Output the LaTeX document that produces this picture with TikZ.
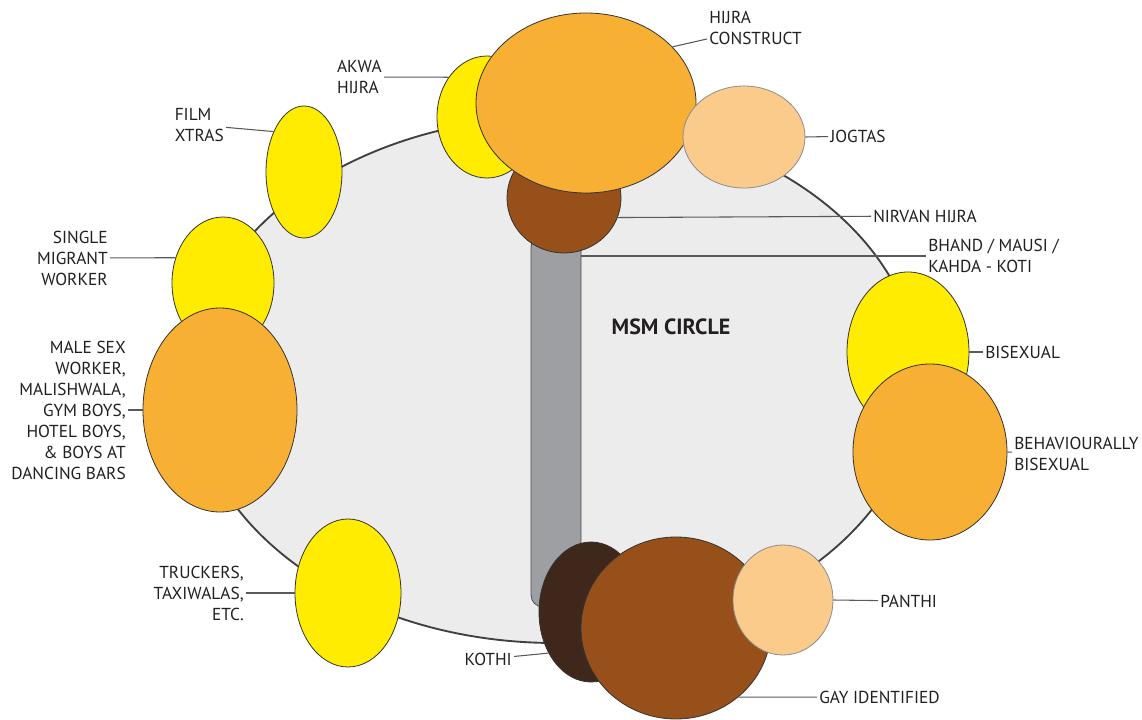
\documentclass[tikz,border=0pt]{standalone}
\usepackage{fontspec}
\setmainfont{PT Sans}
\usepackage{tikz}
\usetikzlibrary{shapes.geometric}
\definecolor{cYel}{HTML}{FFEC00}
\definecolor{cOrg}{HTML}{F7B033}
\definecolor{cPch}{HTML}{FBCB8C}
\definecolor{cBrn}{HTML}{97501A}
\definecolor{cDbr}{HTML}{40271B}
\definecolor{cBg}{HTML}{ECECEC}
\definecolor{cBar}{HTML}{9D9FA2}
\definecolor{cTxt}{HTML}{231F20}
\tikzset{l/.style={font=\fontsize{13}{15.75}\selectfont, text=cTxt, inner sep=1.5pt}}
\tikzset{blob/.style 2 args={ellipse, draw=black!80, line width=.6pt, inner sep=0pt,
  minimum width=#1*1.5pt, minimum height=#2*1.5pt}}
\tikzset{pale/.style={draw=black!45}}
\tikzset{lead/.style={draw=black!65, line width=.8pt}}

\begin{document}
\begin{tikzpicture}[x=.75pt, y=-.75pt]
    \useasboundingbox (0,0) rectangle (1142,720);
    % the big circle and the bar
    \node (msm) [blob={364}{263}, fill=cBg, draw=black!75, line width=1.4pt] at (555,380) {};
    \node (bar) [draw=black!70, line width=.6pt, fill=cBar, rounded corners=9pt,
      minimum width=37.5pt, minimum height=279pt, inner sep=0pt] at (556,421) {};
    \node (msmtxt) [l, font=\fontsize{16.5}{18}\selectfont\bfseries] at (671,327) {MSM CIRCLE};
    \node (bhandtxt) [l, anchor=west, align=left] at (926,256) {BHAND / MAUSI /\\KAHDA - KOTI};
    \draw [lead] (bhandtxt.west) -- (bhandtxt.west -| bar.east);
    % top group
    \node (akwa) [blob={50}{61}, fill=cYel] at (487,117) {};
    \node (akwatxt) [l, anchor=east, align=left] at (384,77) {AKWA\\HIJRA}
      edge [lead] (akwa.134);
    \node (nirvan) [blob={57}{55}, fill=cBrn] at (564,198) {};
    \node (nirvantxt) [l, anchor=west] at (871,216) {NIRVAN HIJRA}
      edge [lead] (nirvan.-20);
    \node (hijra) [blob={110}{90}, fill=cOrg] at (586,103) {};
    \node (hijratxt) [l, anchor=west, align=left] at (707,28) {HIJRA\\CONSTRUCT}
      edge [lead] (hijra.33);
    \node (jog) [blob={61}{51}, fill=cPch, pale] at (744,137) {};
    \node (jogtxt) [l, anchor=west] at (828,136) {JOGTAS}
      edge [lead] (jog.0);
    % left side
    \node (film) [blob={38}{66}, fill=cYel] at (304,172) {};
    \node (filmtxt) [l, anchor=east, align=left] at (226,125) {FILM\\XTRAS}
      edge [lead] (film.127);
    \node (sing) [blob={51}{66}, fill=cYel] at (223,283) {};
    \node (singtxt) [l, anchor=east, align=right] at (110,258) {SINGLE\\MIGRANT\\WORKER}
      edge [lead] (sing.152);
    \node (male) [blob={77}{102}, fill=cOrg] at (220,410) {};
    \node (maletxt) [l, anchor=east, align=right] at (128,410)
      {MALE SEX\\WORKER,\\MALISHWALA,\\GYM BOYS,\\HOTEL BOYS,\\\& BOYS AT\\DANCING BARS}
      edge [lead] (male.180);
    \node (truck) [blob={53}{74}, fill=cYel] at (348,593) {};
    \node (trucktxt) [l, anchor=east, align=right] at (246,593) {TRUCKERS,\\TAXIWALAS,\\ETC.}
      edge [lead] (truck.180);
    % right side
    \node (bi) [blob={61}{80}, fill=cYel] at (908,352) {};
    \node (bitxt) [l, anchor=west] at (983,352) {BISEXUAL}
      edge [lead] (bi.0);
    \node (beh) [blob={77}{88}, fill=cOrg] at (930,452) {};
    \node (behtxt) [l, anchor=west, align=left] at (1012,454) {BEHAVIOURALLY\\BISEXUAL}
      edge [lead] (beh.0);
    % bottom group
    \node (kothi) [blob={52}{70}, fill=cDbr] at (591,612) {};
    \node (kothitxt) [l, anchor=east] at (514,659) {KOTHI}
      edge [lead] (kothi.224);
    \node (gay) [blob={95}{91}, fill=cBrn] at (676,628) {};
    \node (gaytxt) [l, anchor=west] at (817,697) {GAY IDENTIFIED}
      edge [lead] (gay.-48);
    \node (panthi) [blob={50}{55}, fill=cPch, pale] at (783,600) {};
    \node (panthitxt) [l, anchor=west] at (878,601) {PANTHI}
      edge [lead] (panthi.0);
\end{tikzpicture}
\end{document}
